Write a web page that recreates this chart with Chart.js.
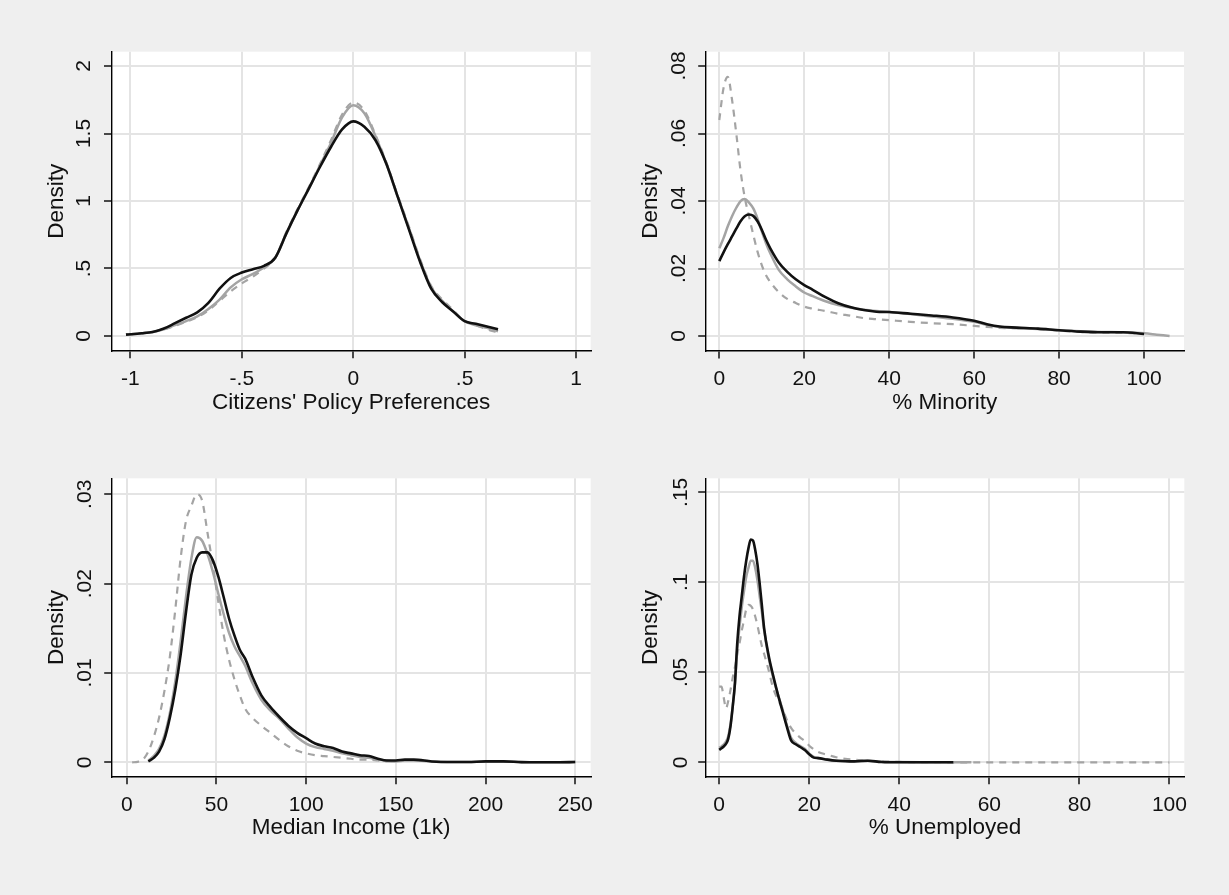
<!DOCTYPE html>
<html lang="en">
<head>
<meta charset="UTF-8" />
<title>Density comparison</title>
<style>
  html, body { margin: 0; padding: 0; }
  body { width: 1229px; height: 895px; background: #efefef; position: relative; overflow: hidden; }
  canvas { position: absolute; }
</style>
</head>
<body>
<canvas id="c1" width="614" height="447" style="left:0;top:0"></canvas>
<canvas id="c2" width="615" height="447" style="left:614px;top:0"></canvas>
<canvas id="c3" width="614" height="448" style="left:0;top:447px"></canvas>
<canvas id="c4" width="615" height="448" style="left:614px;top:447px"></canvas>
<script src="https://cdn.jsdelivr.net/npm/chart.js"></script>
<script>
// --- data ---
// Citizens' policy preferences
const prefX     = [-1.02, -0.95, -0.9, -0.85, -0.8, -0.75, -0.7, -0.65, -0.6, -0.55, -0.5, -0.45, -0.4, -0.35, -0.3, -0.25, -0.2, -0.15, -0.1, -0.05, 0, 0.05, 0.1, 0.15, 0.2, 0.25, 0.3, 0.35, 0.4, 0.45, 0.5, 0.55, 0.6, 0.65];
const prefBlack = [0.01, 0.02, 0.03, 0.055, 0.095, 0.135, 0.175, 0.245, 0.35, 0.43, 0.47, 0.495, 0.52, 0.58, 0.76, 0.93, 1.09, 1.25, 1.40, 1.53, 1.59, 1.55, 1.45, 1.27, 1.03, 0.79, 0.55, 0.35, 0.25, 0.18, 0.11, 0.09, 0.07, 0.05];
const prefGray  = [0.01, 0.02, 0.03, 0.05, 0.08, 0.11, 0.145, 0.2, 0.27, 0.36, 0.42, 0.46, 0.51, 0.58, 0.76, 0.93, 1.09, 1.26, 1.43, 1.62, 1.71, 1.65, 1.48, 1.27, 1.03, 0.8, 0.56, 0.36, 0.26, 0.18, 0.11, 0.08, 0.06, 0.035];
const prefDash  = [0.01, 0.02, 0.03, 0.05, 0.075, 0.105, 0.14, 0.19, 0.26, 0.33, 0.39, 0.44, 0.50, 0.58, 0.77, 0.94, 1.10, 1.27, 1.45, 1.64, 1.73, 1.67, 1.49, 1.28, 1.04, 0.81, 0.57, 0.37, 0.27, 0.19, 0.11, 0.08, 0.05, 0.025];
const prefTicks = [-1, -0.5, 0, 0.5, 1];
const prefTickLabels = ["-1", "-.5", "0", ".5", "1"];
const prefDensTicks = [0, 0.5, 1, 1.5, 2];
const prefDensLabels = ["0", ".5", "1", "1.5", "2"];

// % Minority
const minorityX     = [0, 1, 2, 3, 4, 5, 6, 7, 8, 9, 10, 11, 12, 14, 16, 18, 20, 22, 25, 28, 31, 34, 37, 40, 45, 50, 55, 60, 63, 66, 70, 75, 80, 85, 90, 95, 100, 103, 106];
const minorityBlack = [.0222, .0248, .0272, .0295, .0318, .0340, .0355, .0360, .0356, .0340, .0315, .0285, .0260, .0218, .0190, .0168, .0151, .0137, .0115, .0097, .0085, .0077, .0072, .0071, .0066, .0061, .0055, .0045, .0035, .0028, .0025, .0022, .0017, .0013, .0011, .0011, .0006, null, null];
const minorityGray  = [.0260, .0290, .0325, .0355, .0380, .0400, .0406, .0395, .0378, .0348, .0310, .0275, .0245, .0196, .0168, .0147, .0129, .0118, .0103, .0092, .0084, .0078, .0074, .0071, .0065, .0058, .0051, .0042, .0033, .0027, .0024, .0021, .0017, .0014, .0012, .0011, .0008, .0004, 0];
const minorityDash  = [.0640, .0735, .0768, .0700, .0600, .0490, .0410, .0354, .0300, .0250, .0210, .0180, .0160, .0130, .0110, .0098, .0087, .0081, .0074, .0066, .0060, .0053, .0050, .0047, .0042, .0038, .0035, .0030, .0027, .0024, .0023, .0021, .0016, .0012, .0010, .0009, .0007, null, null];
const minorityTicks = [0, 20, 40, 60, 80, 100];
const minorityTickLabels = ["0", "20", "40", "60", "80", "100"];
const minorityDensTicks = [0, 0.02, 0.04, 0.06, 0.08];
const minorityDensLabels = ["0", ".02", ".04", ".06", ".08"];

// Median income (1k)
const incomeX     = [3, 6, 9, 12, 15, 18, 21, 24, 27, 30, 33, 36, 39, 42, 45, 48, 51, 54, 57, 60, 63, 66, 70, 75, 80, 85, 90, 95, 100, 105, 110, 115, 120, 125, 130, 135, 140, 145, 150, 155, 160, 170, 180, 190, 200, 210, 220, 230, 240, 250];
const incomeBlack = [null, null, null, .0001, .0005, .0012, .0026, .0050, .0081, .0120, .0168, .0210, .0229, .0235, .0235, .0226, .0208, .0185, .0161, .0142, .0126, .0116, .0096, .0075, .0062, .0051, .0041, .0033, .0027, .0021, .0018, .0016, .0012, .0010, .0008, .0007, .0004, .0002, .0002, .0003, .0003, .0001, .00003, .00003, .0001, .0001, .00002, 0, 0, .00003];
const incomeGray  = [null, null, null, .0002, .0007, .0015, .0030, .0055, .0090, .0135, .0185, .0228, .0252, .0248, .0233, .0213, .0189, .0166, .0145, .0130, .0119, .0108, .0089, .0070, .0058, .0049, .0038, .0028, .0021, .0017, .0015, .0013, .0010, .0008, .0006, .0005, .0003, .0002, .0001, .0002, .0002, .0001, .00003, .00003, .0001, .0001, .00002, 0, 0, .00003];
const incomeDash  = [0, .00005, .0003, .0012, .0028, .0050, .0080, .0118, .0170, .0228, .0270, .0287, .0300, .0293, .0257, .0220, .0180, .0143, .0115, .0093, .0075, .0060, .0050, .0041, .0033, .0025, .0018, .0013, .0010, .0008, .0007, .0006, .0005, .0004, .0003, .0003, .0002, .0001, .0001, null, null, null, null, null, null, null, null, null, null, null];
const incomeTicks = [0, 50, 100, 150, 200, 250];
const incomeTickLabels = ["0", "50", "100", "150", "200", "250"];
const incomeDensTicks = [0, 0.01, 0.02, 0.03];
const incomeDensLabels = ["0", ".01", ".02", ".03"];

// % Unemployed
const unempX     = [0, 0.5, 1, 1.5, 2, 2.5, 3, 3.5, 4, 4.5, 5, 5.5, 6, 6.5, 7, 7.5, 8, 8.5, 9, 9.5, 10, 11, 12, 13, 14, 15, 16, 17, 18, 19, 20, 21, 22, 24, 26, 28, 30, 33, 36, 40, 45, 52, 56, 60, 70, 80, 90, 100];
const unempBlack = [.0069, .0078, .0088, .0102, .0130, .0199, .0310, .0440, .0660, .0810, .0920, .1030, .1120, .1190, .1238, .1232, .1180, .1100, .0990, .0866, .0740, .0590, .0480, .0380, .0290, .0200, .0120, .0100, .0085, .0068, .0045, .0026, .0023, .0015, .0009, .0006, .0005, .0009, .0002, 0, 0, 0, null, null, null, null, null, null];
const unempGray  = [.0080, .0088, .0098, .0115, .0145, .0210, .0310, .0440, .0620, .0750, .0860, .0950, .1030, .1080, .1120, .1120, .1080, .1010, .0920, .0830, .0730, .0580, .0470, .0380, .0300, .0210, .0135, .0108, .0090, .0075, .0048, .0030, .0024, .0016, .0010, .0008, .0006, .0008, .0003, .0001, 0, 0, 0, null, null, null, null, null];
const unempDash  = [.042, .042, .036, .030, .034, .040, .047, .053, .060, .066, .073, .079, .085, .0875, .087, .085, .081, .076, .070, .0644, .060, .051, .041, .035, .030, .0237, .019, .016, .0137, .0118, .0092, .0072, .0057, .0042, .0028, .0019, .0014, .0008, .0005, .0002, .0001, 0, 0, 0, 0, 0, 0, 0];
const unempTicks = [0, 20, 40, 60, 80, 100];
const unempTickLabels = ["0", "20", "40", "60", "80", "100"];
const unempDensTicks = [0, 0.05, 0.1, 0.15];
const unempDensLabels = ["0", ".05", ".1", ".15"];

// --- drawing ---
const FONT = "'Liberation Sans', Arial, Helvetica, sans-serif";
const TICK_SIZE = 21;
const TITLE_SIZE = 22.5;
const TICK_LEN = 7.5;
const INK = "#111111";
const GRAY = "#a4a4a4";

Chart.defaults.font.family = FONT;
Chart.defaults.color = INK;

const measureCtx = document.createElement("canvas").getContext("2d");
function widestLabel(labels) {
  measureCtx.font = TICK_SIZE + "px " + FONT;
  return Math.max(...labels.map((t) => measureCtx.measureText(t).width));
}

// fill plot region white
const plotBackground = {
  id: "plotBackground",
  beforeDraw(chart) {
    const a = chart.chartArea;
    const ctx = chart.ctx;
    ctx.save();
    ctx.fillStyle = "#ffffff";
    ctx.fillRect(a.left, a.top, a.right - a.left, a.bottom - a.top);
    ctx.restore();
  },
};

function pts(xs, ys) {
  return xs.map((x, i) => ({ x: x, y: ys[i] }));
}

function drawPanel(id, p) {
  const canvas = document.getElementById(id);
  const W = canvas.width;
  const H = canvas.height;
  const [L, T, R, B] = p.area;
  const yPad = p.yLabelOffset - TICK_LEN - widestLabel(p.yLabels) / 2;

  new Chart(canvas, {
    type: "scatter",
    data: {
      datasets: [
        { data: pts(p.x, p.black), borderColor: INK, borderWidth: 2.6 },
        { data: pts(p.x, p.gray), borderColor: GRAY, borderWidth: 2.5 },
        { data: pts(p.x, p.dash), borderColor: GRAY, borderWidth: 2.2, borderDash: [7, 6] },
      ].map((d) => Object.assign(d, {
        showLine: true, pointRadius: 0, cubicInterpolationMode: "monotone", fill: false,
      })),
    },
    options: {
      responsive: false,
      animation: false,
      events: [],
      layout: { padding: { left: 0, top: T, right: W - R, bottom: 0 } },
      plugins: { legend: { display: false }, tooltip: { enabled: false } },
      scales: {
        x: {
          type: "linear",
          min: p.xMin,
          max: p.xMax,
          afterBuildTicks: (s) => { s.ticks = p.xTicks.map((v) => ({ value: v })); },
          afterFit: (s) => { s.height = H - B; },
          ticks: {
            autoSkip: false, maxRotation: 0, padding: 8.4, color: INK,
            font: { size: TICK_SIZE },
            callback: (v, i) => p.xLabels[i],
          },
          grid: { color: "#e4e4e4", lineWidth: 2, tickColor: "#000", tickLength: TICK_LEN, tickWidth: 1.4 },
          border: { display: true, color: "#000", width: 1.4 },
          title: {
            display: true, text: p.xTitle, color: INK,
            font: { size: TITLE_SIZE },
            padding: { top: 0, bottom: H - 13.5 - B - p.xTitleOffset },
          },
        },
        y: {
          type: "linear",
          min: p.yMin,
          max: p.yMax,
          afterBuildTicks: (s) => { s.ticks = p.yTicks.map((v) => ({ value: v })); },
          afterFit: (s) => { s.width = L; },
          ticks: {
            autoSkip: false, minRotation: 90, maxRotation: 90, crossAlign: "center",
            padding: yPad, color: INK,
            font: { size: TICK_SIZE },
            callback: (v, i) => p.yLabels[i],
          },
          grid: { color: "#e4e4e4", lineWidth: 2, tickColor: "#000", tickLength: TICK_LEN, tickWidth: 1.4 },
          border: { display: true, color: "#000", width: 1.4 },
          title: {
            display: true, text: "Density", color: INK,
            font: { size: TITLE_SIZE },
            padding: { top: L - 55 - 13.5, bottom: 0 },
          },
        },
      },
    },
    plugins: [plotBackground],
  });
}

drawPanel("c1", {
  area: [111.5, 51.7, 590.7, 350.7],
  x: prefX, black: prefBlack, gray: prefGray, dash: prefDash,
  xMin: -1.085, xMax: 1.066, xTicks: prefTicks, xLabels: prefTickLabels,
  yMin: -0.109, yMax: 2.106, yTicks: prefDensTicks, yLabels: prefDensLabels,
  xTitle: "Citizens' Policy Preferences", xTitleOffset: 52, yLabelOffset: 27,
});

drawPanel("c2", {
  area: [91.7, 51.7, 570, 351],
  x: minorityX, black: minorityBlack, gray: minorityGray, dash: minorityDash,
  xMin: -3.2, xMax: 109.4, xTicks: minorityTicks, xLabels: minorityTickLabels,
  yMin: -0.00444, yMax: 0.08424, yTicks: minorityDensTicks, yLabels: minorityDensLabels,
  xTitle: "% Minority", xTitleOffset: 52, yLabelOffset: 26,
});

drawPanel("c3", {
  area: [111.7, 31.3, 590.7, 329.7],
  x: incomeX, black: incomeBlack, gray: incomeGray, dash: incomeDash,
  xMin: -8.4, xMax: 258.6, xTicks: incomeTicks, xLabels: incomeTickLabels,
  yMin: -0.00161, yMax: 0.03179, yTicks: incomeDensTicks, yLabels: incomeDensLabels,
  xTitle: "Median Income (1k)", xTitleOffset: 51, yLabelOffset: 26,
});

drawPanel("c4", {
  area: [91.7, 31.3, 570.3, 329.7],
  x: unempX, black: unempBlack, gray: unempGray, dash: unempDash,
  xMin: -3.0, xMax: 103.3, xTicks: unempTicks, xLabels: unempTickLabels,
  yMin: -0.008, yMax: 0.1578, yTicks: unempDensTicks, yLabels: unempDensLabels,
  xTitle: "% Unemployed", xTitleOffset: 51, yLabelOffset: 24,
});
</script>
</body>
</html>
